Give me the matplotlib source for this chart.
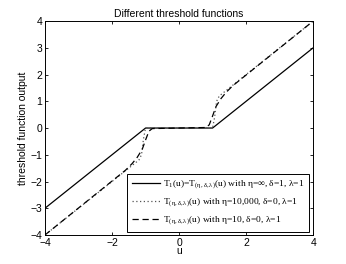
import matplotlib
matplotlib.use("Agg")
import matplotlib.pyplot as plt

plt.rcParams['font.family'] = ['Liberation Sans', 'DejaVu Sans']
plt.rcParams['mathtext.fontset'] = 'custom'
plt.rcParams['mathtext.rm'] = 'Liberation Serif'
plt.rcParams['mathtext.it'] = 'Liberation Serif:italic'

# Data
u_soft = [-4, -1, 1, 4]
y_soft = [-3, 0, 0, 3]

u_hard = [-4, -1.2, -1.12, -1.06, -1.0, 1.0, 1.06, 1.12, 1.2, 4]
y_hard = [-4, -1.2, -1.0, -0.4, 0, 0, 0.4, 1.0, 1.2, 4]

u_smooth = [-4, -1.6, -1.4, -1.25, -1.1, -1.0, -0.9, -0.8, 0.8, 0.9, 1.0, 1.1, 1.25, 1.4, 1.6, 4]
y_smooth = [-4, -1.58, -1.33, -1.1, -0.8, -0.45, -0.12, -0.02, 0.02, 0.12, 0.45, 0.8, 1.1, 1.33, 1.58, 4]

labels = [
    r"T$_1$(u)=T$_{\mathregular{(η,δ,λ)}}$(u) with η=∞, δ=1, λ=1",
    r"T$_{\mathregular{(η,δ,λ)}}$(u) with η=10,000, δ=0, λ=1",
    r"T$_{\mathregular{(η,δ,λ)}}$(u) with η=10, δ=0, λ=1",
]
xticks = [-4, -2, 0, 2, 4]
yticks = [-4, -3, -2, -1, 0, 1, 2, 3, 4]

fig = plt.figure(figsize=(3.46, 2.64), dpi=100)
ax = fig.add_axes([0.130, 0.110, 0.775, 0.810])

ax.plot(u_soft, y_soft, color='black', lw=0.9, label=labels[0])
ax.plot(u_hard, y_hard, color='#555555', lw=0.9, linestyle=(0, (1, 2)), label=labels[1])
ax.plot(u_smooth, y_smooth, color='black', lw=0.9, linestyle=(0, (5, 3)), label=labels[2])

ax.set_xlim(-4, 4)
ax.set_ylim(-4, 4)
ax.set_xticks(xticks)
ax.set_yticks(yticks)
ax.tick_params(direction='in', length=2.5, width=0.6, labelsize=7.5, top=True, right=True, pad=2)
for s in ax.spines.values():
    s.set_linewidth(0.7)

ax.set_title("Different threshold functions", fontsize=7.5, pad=3)
ax.set_xlabel("u", fontsize=7.5, labelpad=-1)
ax.set_ylabel("threshold function output", fontsize=7.5, labelpad=2)

leg = ax.legend(loc='lower right', bbox_to_anchor=(0.985, 0.014), borderaxespad=0,
                prop={'family': 'Liberation Serif', 'size': 6.8},
                frameon=True, fancybox=False, framealpha=1, edgecolor='black',
                handlelength=3.0, handletextpad=0.3, labelspacing=0.6,
                borderpad=0.5)
leg.get_frame().set_linewidth(0.7)

fig.savefig("out.png", dpi=100)
